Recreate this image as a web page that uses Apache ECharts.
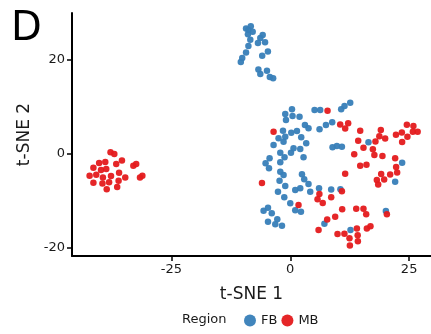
<!DOCTYPE html>
<html>
<head>
<meta charset="utf-8">
<script src="https://cdn.jsdelivr.net/npm/echarts@6/dist/echarts.min.js"></script>
<style>
  html, body { margin: 0; padding: 0; background: #fff; }
  #chart { width: 431px; height: 334px; }
</style>
</head>
<body>
<div id="chart"></div>
<script>
// t-SNE embedding coordinates, one array per region and axis
const fbX = [
  -9.3, -8.3, -8.8, -7.9, -8.9, -8.4, -8.8, -9.3, -10.1, -10.4,
  -5.8, -6.3, -6.8, -5.3, -4.7, -5.9, -6.7, -6.3, -4.9, -4.3, -3.6,
  0.36, -1.05, 0.48, 1.95, -0.90, 5.11, 6.30, 10.71, 11.41, 12.61,
  3.09, 3.84, 7.50, 8.82, 6.16, -1.53, 0.21, 1.41, -2.46, -1.05,
  -1.41, 2.31, -3.51, 3.36, 0.69, 2.10, -2.10, 0.15, -1.20, -4.35,
  2.79, -2.10, -5.19, -4.47, 8.89, 9.81, 10.86, -2.10, -1.41, 2.46,
  2.94, -2.25, -1.05, 3.84, 2.10, 1.05, -2.58, 4.20, -1.26, 6.05,
  8.61, 10.55, 0.00, 1.05, 2.25, -5.61, -4.68, -3.89, -2.73, -4.68,
  -3.15, -1.74, 7.18, 12.67, 16.45, 23.53, 22.06, 20.11
];
const fbY = [
  26.7, 27.2, 26.4, 26.0, 25.5, 24.3, 23.0, 21.6, 20.4, 19.6,
  25.3, 24.7, 23.6, 23.8, 21.8, 20.9, 18.0, 17.0, 17.7, 16.4, 16.1,
  9.51, 8.51, 8.09, 7.94, 7.23, 9.36, 9.36, 9.51, 10.21, 10.91,
  6.17, 5.47, 6.17, 6.74, 5.26, 4.96, 4.53, 4.89, 3.34, 3.68,
  2.62, 3.55, 1.91, 2.28, 1.21, 1.06, 0.28, 0.28, -0.70, -0.91,
  -0.70, -1.77, -1.98, -3.04, 1.43, 1.70, 1.55, -3.77, -4.47, -4.32,
  -5.38, -5.68, -6.81, -6.38, -7.30, -7.66, -8.02, -8.02, -9.21, -7.30,
  -7.55, -7.51, -10.49, -11.98, -12.28, -12.09, -11.43, -12.62, -13.89, -14.40,
  -14.94, -15.26, -14.83, -16.17, 2.49, -1.85, -5.89, -12.13
];
const mbX = [
  -37.8, -37.0, -41.4, -40.2, -38.9, -35.4, -36.6, -39.8, -38.7, -33.0,
  -32.4, -42.2, -40.8, -39.4, -37.7, -36.0, -34.7, -31.6, -31.1, -41.4,
  -39.5, -38.1, -36.1, -38.6, -36.4,
  7.84, -3.51, 10.50, 12.18, 11.55, 14.71, 14.29, 15.40, 13.45, 17.92,
  19.05, 18.74, 19.96, 17.37, 17.69, 19.39, 14.71, 16.03, 22.23, 23.47,
  24.52, 25.90, 25.78, 26.79, 24.64, 23.53, 22.06, 22.27, 22.48, 21.01,
  19.12, 18.21, 19.75, 18.49, 11.55, -5.95, 6.13, 5.74, 6.83, 8.61,
  10.86, 1.74, 10.92, 13.87, 15.40, 15.97, 20.32, 7.77, 9.45, 5.95,
  9.94, 11.39, 12.46, 14.01, 14.18, 14.22, 12.54, 16.11, 16.87
];
const mbY = [
  0.4, 0.0, -2.9, -1.9, -1.7, -1.4, -2.1, -3.4, -3.2, -2.5,
  -2.1, -4.6, -4.4, -5.0, -4.7, -4.0, -5.0, -5.0, -4.6, -6.1,
  -6.3, -6.0, -5.7, -7.5, -7.0,
  9.21, 4.74, 6.26, 6.53, 5.43, 4.96, 2.81, 1.34, -0.04, 2.68,
  5.11, 3.77, 3.30, 1.00, -0.21, -0.43, -2.51, -2.28, 4.11, 4.57,
  6.21, 5.96, 4.74, 4.74, 3.68, 2.55, -0.91, -2.77, -3.94, -4.36,
  -4.26, -5.53, -5.45, -6.49, -4.21, -6.17, -8.51, -9.62, -10.43, -9.21,
  -7.94, -10.85, -11.77, -11.64, -11.64, -12.81, -12.81, -13.96, -13.34, -16.17,
  -17.02, -16.94, -17.94, -15.87, -17.30, -18.57, -19.47, -15.87, -15.38
];

const regions = ['FB', 'MB'];
const regionColors = ['#377EB8', '#E41A1C'];
const xTicks = [-25, 0, 25];
const yTicks = [-20, 0, 20];

const pairs = (xs, ys) => xs.map((x, i) => [x, ys[i]]);

const font = 'DejaVu Sans';
const chart = echarts.init(document.getElementById('chart'), null, { renderer: 'canvas' });

chart.setOption({
  animation: false,
  backgroundColor: '#ffffff',
  grid: { left: 72, right: 0, top: 13, bottom: 78 },
  xAxis: {
    type: 'value',
    min: -45.9,
    max: 29.6,
    name: 't-SNE 1',
    nameLocation: 'middle',
    nameGap: 30,
    nameTextStyle: { fontFamily: font, fontSize: 17, color: '#1a1a1a' },
    axisLine: { show: true, onZero: false, lineStyle: { color: '#000', width: 2 } },
    axisTick: { show: true, length: 5, customValues: xTicks, lineStyle: { color: '#000', width: 1.5 } },
    axisLabel: { customValues: xTicks, margin: 7, fontFamily: font, fontSize: 13, color: '#1a1a1a' },
    splitLine: { show: false }
  },
  yAxis: {
    type: 'value',
    min: -21.7,
    max: 30.0,
    name: 't-SNE 2',
    nameLocation: 'middle',
    nameGap: 30,
    nameTextStyle: { fontFamily: font, fontSize: 17, color: '#1a1a1a' },
    axisLine: { show: true, onZero: false, lineStyle: { color: '#000', width: 2 } },
    axisTick: { show: true, length: 5, customValues: yTicks, lineStyle: { color: '#000', width: 1.5 } },
    axisLabel: { customValues: yTicks, margin: 7, fontFamily: font, fontSize: 13, color: '#1a1a1a' },
    splitLine: { show: false }
  },
  legend: {
    data: regions.map(name => ({ name, icon: 'circle' })),
    left: 244,
    top: 314,
    padding: 0,
    itemWidth: 12,
    itemHeight: 12,
    itemGap: 4,
    textStyle: { fontFamily: font, fontSize: 13, color: '#1a1a1a' }
  },
  graphic: [
    {
      type: 'text', left: 11, top: 10,
      style: { text: 'D', fontFamily: font, fontSize: 40, fill: '#000' }
    },
    {
      type: 'text', left: 182, top: 313,
      style: { text: 'Region', fontFamily: font, fontSize: 13, fill: '#1a1a1a' }
    }
  ],
  series: [
    {
      name: regions[0], type: 'scatter', symbolSize: 6.5,
      itemStyle: { color: regionColors[0], opacity: 0.95 },
      data: pairs(fbX, fbY)
    },
    {
      name: regions[1], type: 'scatter', symbolSize: 6.5,
      itemStyle: { color: regionColors[1], opacity: 0.95 },
      data: pairs(mbX, mbY)
    }
  ]
});
</script>
</body>
</html>
